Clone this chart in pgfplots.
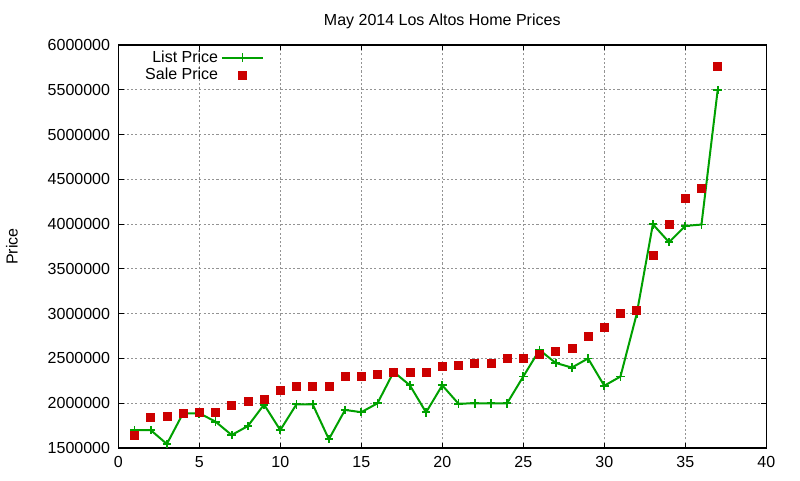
\documentclass[border=0pt]{standalone}
\usepackage{pgfplots}
\pgfplotsset{compat=1.18}
\usepackage{fontspec}
\setmainfont{Liberation Sans}
\definecolor{lgreen}{RGB}{0,160,0}
\definecolor{sred}{RGB}{204,0,0}
\begin{document}
\fontsize{12}{14}\selectfont
\begin{tikzpicture}
\useasboundingbox (-88.7pt,-24pt) rectangle (511.3pt,336pt);
\begin{axis}[
  at={(0,0)}, anchor=south west,
  scale only axis, width=486pt, height=302.25pt,
  clip mode=individual,
  xmin=0, xmax=40, ymin=1500000, ymax=6000000,
  xtick={0,5,...,40},
  ytick={1500000,2000000,...,6000000},
  scaled y ticks=false,
  /pgf/number format/assume math mode=true,
  yticklabel={\pgfmathprintnumber[fixed,1000 sep={},precision=0]{\tick}},
  xticklabel={\pgfmathprintnumber[fixed,precision=0]{\tick}},
  tick align=inside,
  major tick length=4pt,
  tick style={black, line width=0.6pt},
  axis line style={black, line width=0.8pt},
  grid=major,
  grid style={gray!85, dash pattern=on 1.6pt off 1.6pt, line width=0.6pt},
  yticklabel style={xshift=-2pt},
  xticklabel style={yshift=-2pt},
  legend cell align=right,
  legend plot pos=right,
  legend style={draw=none, fill=none, at={(rel axis cs:0,1)}, anchor=north west,
    xshift=17pt, yshift=-1pt, row sep=-1.5pt, inner sep=1pt,
    font=\fontsize{12}{14}\selectfont},
]
\addplot[lgreen, line width=1.5pt, mark=+, mark size=3.2pt, mark options={line width=1.4pt},
  legend image code/.code={\draw[mark repeat=2,mark phase=2] plot coordinates {(5pt,0pt) (20.5pt,0pt) (36pt,0pt)};}]
coordinates {
(1,1700000) (2,1700000) (3,1545000) (4,1888000) (5,1888000) (6,1795000) (7,1645000)
(8,1745000) (9,1985000) (10,1700000) (11,1988000) (12,1988000) (13,1598000)
(14,1925000) (15,1900000) (16,1999000) (17,2350000) (18,2200000) (19,1898000)
(20,2200000) (21,1995000) (22,1999000) (23,1999000) (24,1999000) (25,2298000)
(26,2595000) (27,2450000) (28,2398000) (29,2500000) (30,2195000) (31,2298000)
(32,2995000) (33,3998000) (34,3798000) (35,3980000) (36,3995000) (37,5495000)
};
\addlegendentry{List Price}
\addplot[only marks, mark=square*, sred, mark size=3pt, mark options={line width=0.3pt},
  legend image code/.code={\draw plot[only marks] coordinates {(20.5pt,0pt)};}]
coordinates {
(1,1642000) (2,1847000) (3,1858000) (4,1884000) (5,1895000) (6,1898000) (7,1973000)
(8,2025000) (9,2040000) (10,2141000) (11,2195000) (12,2195000) (13,2195000)
(14,2300000) (15,2300000) (16,2320000) (17,2345000) (18,2345000) (19,2345000)
(20,2410000) (21,2425000) (22,2450000) (23,2450000) (24,2500000) (25,2500000)
(26,2550000) (27,2580000) (28,2610000) (29,2750000) (30,2850000) (31,3000000)
(32,3040000) (33,3650000) (34,4000000) (35,4290000) (36,4400000) (37,5760000)
};
\addlegendentry{Sale Price}
\node at (rel axis cs:0.5,1) [yshift=17.5pt] {May 2014 Los Altos Home Prices};
\node at (rel axis cs:0,0.5) [xshift=-79.7pt, rotate=90] {Price};
\end{axis}
\end{tikzpicture}
\end{document}
